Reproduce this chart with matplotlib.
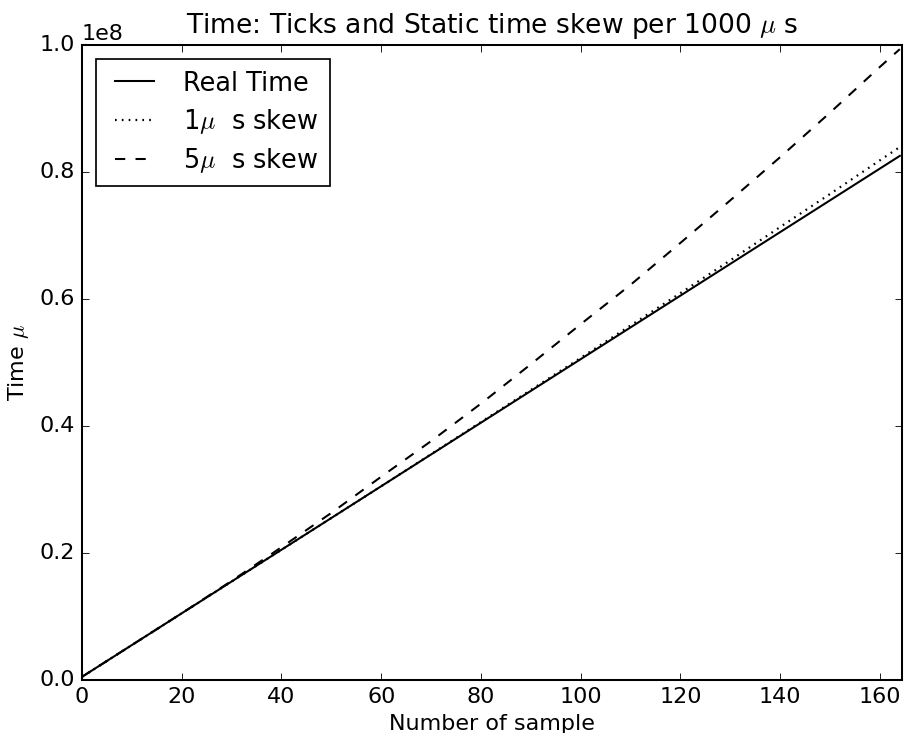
#!/usr/bin/env python3

import matplotlib
matplotlib.use("Agg")
import matplotlib.pyplot as plt
import numpy as np


# sample index and time values (in microseconds)
samples = [0, 10, 20, 30, 40, 50, 60, 70, 80, 90, 100, 110, 120, 130,
           140, 150, 160, 164]
real_time = [0.005e8, 0.055e8, 0.105e8, 0.155e8, 0.205e8, 0.255e8,
             0.305e8, 0.355e8, 0.405e8, 0.455e8, 0.505e8, 0.555e8,
             0.605e8, 0.655e8, 0.705e8, 0.755e8, 0.805e8, 0.825e8]
skew_1us = [0.005e8, 0.055e8, 0.105e8, 0.155e8, 0.205e8, 0.255e8,
            0.305e8, 0.3555e8, 0.406e8, 0.4565e8, 0.507e8, 0.558e8,
            0.609e8, 0.6605e8, 0.713e8, 0.765e8, 0.818e8, 0.839e8]
skew_5us = [0.005e8, 0.055e8, 0.105e8, 0.156e8, 0.209e8, 0.263e8,
            0.320e8, 0.376e8, 0.435e8, 0.497e8, 0.560e8, 0.622e8,
            0.688e8, 0.755e8, 0.823e8, 0.893e8, 0.965e8, 0.993e8]
labels = ["Real Time", r"1$\mu$  s skew", r"5$\mu$  s skew"]


if __name__ == "__main__":
    plt.style.use("classic")
    plt.rcParams["figure.facecolor"] = "white"
    plt.rcParams["savefig.facecolor"] = "white"
    plt.rcParams["font.size"] = 13
    plt.rcParams["axes.linewidth"] = 1.2

    fig = plt.figure(figsize=(904.3 / 123, 733.3 / 123), dpi=123)
    ax = fig.add_axes([82 / 904, 53 / 733, 820 / 904, 635 / 733])

    ax.plot(samples, real_time, "k-", lw=1.2, label=labels[0])
    ax.plot(samples, skew_1us, "k:", lw=1.3, label=labels[1])
    ax.plot(samples, skew_5us, "k--", lw=1.2, label=labels[2])

    ax.set_xlim(0, 164.5)
    ax.set_ylim(0, 1e8)
    ax.set_xticks(np.arange(0, 161, 20))
    ax.set_yticks(np.arange(0, 1.01e8, 0.2e8))
    ax.tick_params(labelsize=13)

    plt.title(r"Time: Ticks and Static time skew per 1000 $\mu$ s",
              fontsize=15.5, y=1.005)
    plt.xlabel("Number of sample", fontsize=13, labelpad=4)
    plt.ylabel(r"Time $\mu$", fontsize=13)
    plt.legend(loc="upper left", fontsize=15, handlelength=2.1,
               handletextpad=0.83, borderpad=0.45, labelspacing=0.4,
               borderaxespad=0.55)

    fig.savefig("out.png", dpi=123)
